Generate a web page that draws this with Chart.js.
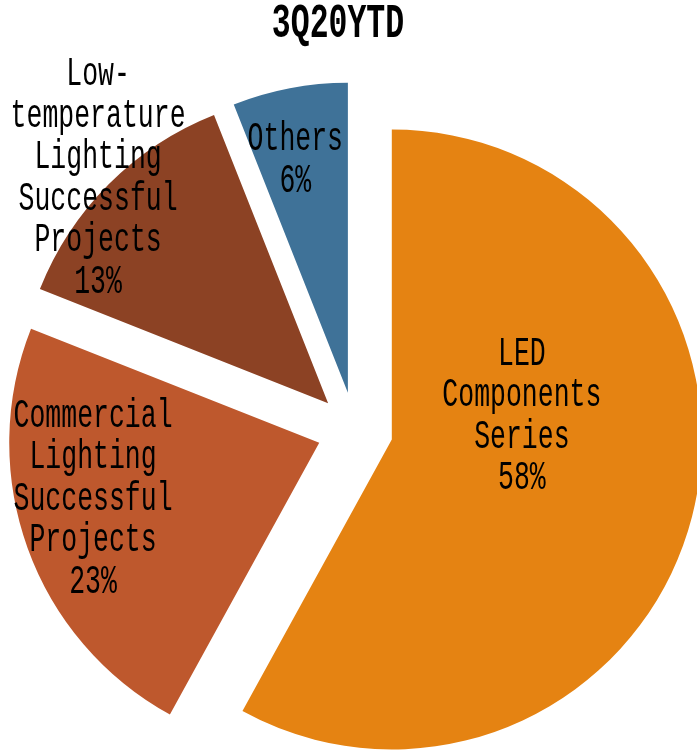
<!DOCTYPE html>
<html>
<head>
<meta charset="utf-8">
<script src="https://cdn.jsdelivr.net/npm/chart.js@4.4.1/dist/chart.umd.min.js"></script>
<style>
  html, body { margin: 0; padding: 0; background: #fff; }
  #wrap { width: 697px; height: 754px; position: relative; }
</style>
</head>
<body>
<div id="wrap"><canvas id="pie"></canvas></div>
<script>
const chartTitle = '3Q20YTD';
const categories = [
  ['LED', 'Components', 'Series'],
  ['Commercial', 'Lighting', 'Successful', 'Projects'],
  ['Low-', 'temperature', 'Lighting', 'Successful', 'Projects'],
  ['Others']
];
const shares = [58, 23, 13, 6];
const colors = ['#E58312', '#BE582D', '#8C4224', '#3F7298'];

// label spot: part of the radius out from the centre, and a turn off the slice middle (deg)
const labelDist = [0.54, 0.874, 1.16, 0.89];
const labelTurn = [-19, 5, -0.6, -1.7];

const RADIUS = 310;
const PUSH = 38;      // px each slice is pulled out
const STRETCH = 1.5;  // the original font is tall and narrow
const FONT = '"Liberation Mono", monospace';

// chart.js grows the radius and trims the angle of exploded slices, undo that
const evenSlices = {
  id: 'evenSlices',
  afterDatasetsUpdate(chart) {
    chart.getDatasetMeta(0).data.forEach(arc => {
      const grow = PUSH * (1 - Math.sin(Math.min(Math.PI, arc.circumference)));
      const trim = grow / (2 * Math.PI * RADIUS);
      arc.outerRadius = RADIUS - grow;
      arc.startAngle -= trim;
      arc.endAngle += trim;
    });
  }
};

function tallText(ctx, text, x, y) {
  ctx.save();
  ctx.translate(x, y);
  ctx.scale(1, STRETCH);
  ctx.fillText(text, 0, 0);
  ctx.restore();
}

const sliceLabels = {
  id: 'sliceLabels',
  afterDatasetsDraw(chart) {
    const ctx = chart.ctx;
    ctx.save();
    ctx.font = '26.5px ' + FONT;
    ctx.fillStyle = '#000';
    ctx.textAlign = 'center';
    ctx.textBaseline = 'middle';
    chart.getDatasetMeta(0).data.forEach((arc, i) => {
      const a = (arc.startAngle + arc.endAngle) / 2 + labelTurn[i] * Math.PI / 180;
      const cx = arc.x + Math.cos(a) * labelDist[i] * RADIUS;
      const cy = arc.y + Math.sin(a) * labelDist[i] * RADIUS;
      const lines = categories[i].concat(shares[i] + '%');
      lines.forEach((t, k) => tallText(ctx, t, cx, cy + (k - (lines.length - 1) / 2) * 41.5));
    });
    ctx.restore();
  },
  afterDraw(chart) {
    const ctx = chart.ctx;
    ctx.save();
    ctx.font = 'bold 31.5px ' + FONT;
    ctx.fillStyle = '#000';
    ctx.textAlign = 'center';
    ctx.textBaseline = 'middle';
    tallText(ctx, chartTitle, 338, 25);
    ctx.restore();
  }
};

new Chart(document.getElementById('pie'), {
  type: 'pie',
  data: {
    labels: categories.map(c => c.join(' ')),
    datasets: [{
      data: shares,
      backgroundColor: colors,
      borderWidth: 0,
      offset: PUSH * 4,
      clip: false
    }]
  },
  options: {
    responsive: true,
    maintainAspectRatio: false,
    animation: false,
    events: [],
    radius: RADIUS,
    layout: { padding: { top: 106, bottom: 0, left: 13, right: 0 } },
    plugins: {
      legend: { display: false },
      tooltip: { enabled: false },
      title: { display: false }
    }
  },
  plugins: [evenSlices, sliceLabels]
});
</script>
</body>
</html>
